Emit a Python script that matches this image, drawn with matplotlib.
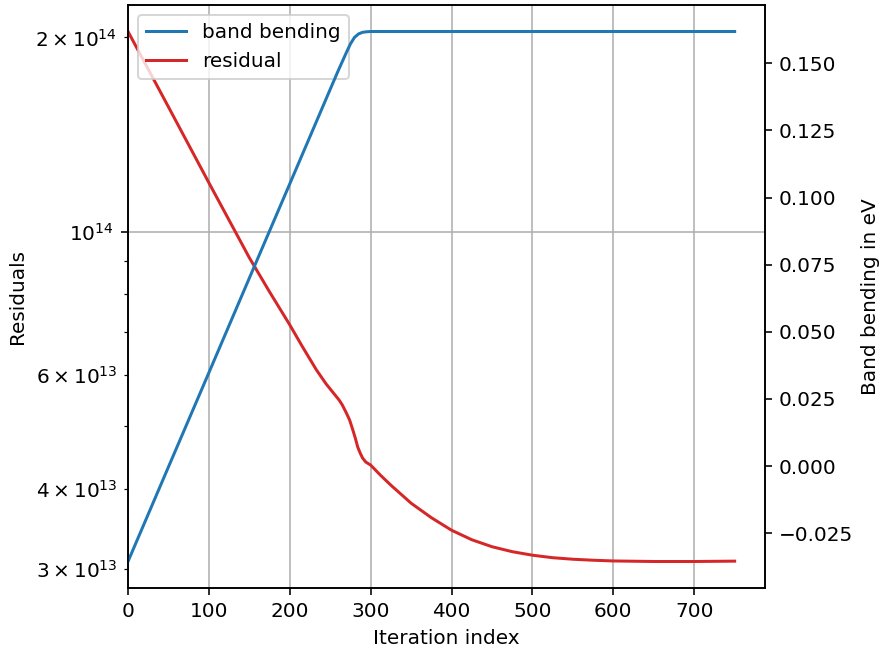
import matplotlib
matplotlib.use("Agg")
import matplotlib.pyplot as plt

# Residual (left, log axis)
res_iter = [0, 50, 100, 150, 175, 200, 215, 233, 245, 255, 261, 265, 270, 274,
            278, 281, 284, 287, 290, 294, 300, 312, 325, 350, 375, 400, 425,
            450, 475, 500, 525, 550, 575, 600, 650, 700, 750]
res_vals = [2.043e14, 1.561e14, 1.191e14, 9.115e13, 8.070e13, 7.174e13,
            6.657e13, 6.107e13, 5.809e13, 5.605e13, 5.486e13, 5.389e13,
            5.237e13, 5.108e13, 4.929e13, 4.790e13, 4.639e13, 4.541e13,
            4.461e13, 4.397e13, 4.350e13, 4.197e13, 4.049e13, 3.797e13,
            3.606e13, 3.448e13, 3.333e13, 3.251e13, 3.194e13, 3.154e13,
            3.126e13, 3.109e13, 3.098e13, 3.090e13, 3.084e13, 3.084e13,
            3.088e13]

# Band bending (right, linear axis, eV)
bb_iter = [0, 50, 100, 150, 200, 250, 260, 270, 275, 280, 285, 290, 295, 300,
           400, 500, 600, 700, 750]
bb_vals = [-0.0355, -0.0003, 0.0348, 0.0700, 0.1051, 0.1403, 0.1473, 0.1540,
           0.1572, 0.1596, 0.1609, 0.1615, 0.1617, 0.1618,
           0.1618, 0.1618, 0.1618, 0.1618, 0.1618]

fig = plt.figure(figsize=(882/144, 651/144), dpi=144)
ax1 = fig.add_axes([128/882, 1-588/651, (765-128)/882, (588-5)/651])
l_res, = ax1.plot(res_iter, res_vals, color="tab:red", lw=1.5, label="residual")
ax1.set_yscale("log")
ax1.set_xlim(0, 787.5)
ax1.set_xlabel("Iteration index")
ax1.set_ylabel("Residuals")
ax1.grid(True)

ax2 = ax1.twinx()
l_bb, = ax2.plot(bb_iter, bb_vals, color="tab:blue", lw=1.5, label="band bending")
ax2.set_ylabel("Band bending in eV")

ax1.legend(handles=[l_bb, l_res], loc="upper left")

fig.savefig("out.png", dpi=144)
